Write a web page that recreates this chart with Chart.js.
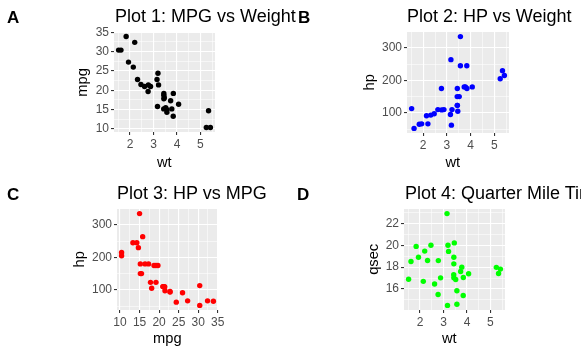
<!DOCTYPE html>
<html>
<head>
<meta charset="utf-8">
<script src="https://cdn.jsdelivr.net/npm/chart.js@4/dist/chart.umd.min.js"></script>
<style>
  html, body { margin: 0; padding: 0; background: #fff; }
  #wrap { position: relative; width: 581px; height: 355px; overflow: hidden; background: #fff; font-family: "Liberation Sans", Arial, sans-serif; }
  canvas { position: absolute; }
  .t { position: absolute; white-space: nowrap; line-height: 1; color: #000; }
  .title { font-size: 18px; }
  .lab { font-size: 17px; font-weight: bold; }
  .ax { font-size: 14.7px; }
  .axv { font-size: 14.7px; transform: rotate(-90deg); transform-origin: 50% 50%; text-align: center; width: 80px; height: 14.7px; }
</style>
</head>
<body>
<div id="wrap">
  <canvas id="c1" width="290" height="177" style="left:0;top:0"></canvas>
  <canvas id="c2" width="291" height="177" style="left:290px;top:0"></canvas>
  <canvas id="c3" width="290" height="178" style="left:0;top:177px"></canvas>
  <canvas id="c4" width="291" height="178" style="left:290px;top:177px"></canvas>
</div>
<script>
// mtcars data (32 cars)
const mpg  = [21.0,21.0,22.8,21.4,18.7,18.1,14.3,24.4,22.8,19.2,17.8,16.4,17.3,15.2,10.4,10.4,14.7,32.4,30.4,33.9,21.5,15.5,15.2,13.3,19.2,27.3,26.0,30.4,15.8,19.7,15.0,21.4];
const hp   = [110,110,93,110,175,105,245,62,95,123,123,180,180,180,205,215,230,66,52,65,97,150,150,245,175,66,91,113,264,175,335,109];
const wt   = [2.620,2.875,2.320,3.215,3.440,3.460,3.570,3.190,3.150,3.440,3.440,4.070,3.730,3.780,5.250,5.424,5.345,2.200,1.615,1.835,2.465,3.520,3.435,3.840,3.845,1.935,2.140,1.513,3.170,2.770,3.570,2.780];
const qsec = [16.46,17.02,18.61,19.44,17.02,20.22,15.84,20.00,22.90,18.30,18.90,17.40,17.60,18.00,17.98,17.82,17.42,19.47,18.52,19.90,20.01,16.87,17.30,15.41,17.05,18.90,16.70,16.90,14.50,15.50,14.60,18.60];

// tick labels (major) and minor grid positions
const wtTicks   = [2,3,4,5];
const wtMinor   = [1.5,2.5,3.5,4.5,5.5];
const mpgTicks  = [10,15,20,25,30,35];
const mpgMinor  = [12.5,17.5,22.5,27.5,32.5];
const hpTicks   = [100,200,300];
const hpMinor   = [50,150,250];
const qsecTicks = [16,18,20,22];
const qsecMinor = [15,17,19,21,23];

const titles = ["Plot 1: MPG vs Weight","Plot 2: HP vs Weight","Plot 3: HP vs MPG","Plot 4: Quarter Mile Time vs Weight"];
const panelLabels = ["A","B","C","D"];

function expandRange(arr) {
  const lo = Math.min(...arr), hi = Math.max(...arr), d = (hi - lo) * 0.05;
  return [lo - d, hi + d];
}

const bgPlugin = {
  id: 'panelbg',
  beforeDraw(chart) {
    const a = chart.chartArea, c = chart.ctx;
    c.save(); c.fillStyle = '#EBEBEB'; c.fillRect(a.left, a.top, a.right - a.left, a.bottom - a.top); c.restore();
  }
};

function axisCfg(data, majors, minors, fitFn) {
  const [mn, mx] = expandRange(data);
  const all = majors.concat(minors).filter(v => v >= mn && v <= mx).sort((a,b)=>a-b);
  const isMajor = v => majors.includes(v);
  return {
    type: 'linear', min: mn, max: mx,
    afterBuildTicks: s => { s.ticks = all.map(v => ({ value: v })); },
    afterFit: fitFn,
    ticks: {
      autoSkip: false, maxRotation: 0, padding: 2,
      color: '#4D4D4D',
      font: { size: 12, family: '"Liberation Sans", Arial, sans-serif' },
      callback: v => isMajor(v) ? String(v) : ''
    },
    grid: {
      color: '#FFFFFF',
      lineWidth: ctx => (ctx.tick && isMajor(ctx.tick.value)) ? 1.1 : 0.55,
      tickColor: ctx => (ctx.tick && isMajor(ctx.tick.value)) ? '#333333' : 'rgba(0,0,0,0)',
      tickWidth: 1.1, tickLength: 3, drawTicks: true
    },
    border: { display: false },
    title: { display: false }
  };
}

function makePanel(id, W, H, xs, ys, color, xMaj, xMin, yMaj, yMin, area) {
  const pts = xs.map((x, i) => ({ x: x, y: ys[i] }));
  new Chart(document.getElementById(id), {
    type: 'scatter',
    data: { datasets: [{ data: pts, backgroundColor: color, borderWidth: 0, pointRadius: 2.7, pointHoverRadius: 2.7 }] },
    options: {
      responsive: false, animation: false, devicePixelRatio: 1,
      layout: { padding: { left: 0, top: area.t, right: W - area.r, bottom: 0 } },
      plugins: { legend: { display: false }, tooltip: { enabled: false }, title: { display: false } },
      scales: {
        x: axisCfg(xs, xMaj, xMin, s => { s.height = H - area.b; }),
        y: axisCfg(ys, yMaj, yMin, s => { s.width = area.l; })
      }
    },
    plugins: [bgPlugin]
  });
}

makePanel('c1', 290, 177, wt,  mpg,  '#000000', wtTicks,  wtMinor,  mpgTicks,  mpgMinor,  { l: 114, t: 32, r: 215, b: 132 });
makePanel('c2', 291, 177, wt,  hp,   '#0000FF', wtTicks,  wtMinor,  hpTicks,   hpMinor,   { l: 117, t: 32, r: 219, b: 133 });
makePanel('c3', 290, 178, mpg, hp,   '#FF0000', mpgTicks, mpgMinor, hpTicks,   hpMinor,   { l: 117, t: 32, r: 218, b: 133 });
makePanel('c4', 291, 178, wt,  qsec, '#00FF00', wtTicks,  wtMinor,  qsecTicks, qsecMinor, { l: 114, t: 32, r: 215, b: 133 });

// text overlays
const wrap = document.getElementById('wrap');
function addText(cls, txt, css) {
  const d = document.createElement('div');
  d.className = 't ' + cls; d.textContent = txt;
  Object.assign(d.style, css); wrap.appendChild(d); return d;
}
// titles (left-aligned to panel)
addText('title', titles[0], { left: '115px', top: '7px' });
addText('title', titles[1], { left: '407px', top: '7px' });
addText('title', titles[2], { left: '117px', top: '184px' });
addText('title', titles[3], { left: '405px', top: '184px' });
// panel labels
addText('lab', panelLabels[0], { left: '7px', top: '9px' });
addText('lab', panelLabels[1], { left: '298px', top: '9px' });
addText('lab', panelLabels[2], { left: '7px', top: '186px' });
addText('lab', panelLabels[3], { left: '297px', top: '186px' });
// x axis titles: centered, baseline given
function xTitle(txt, cx, baseline) {
  const d = addText('ax', txt, { left: '0px', top: (baseline - 12.4) + 'px' });
  d.style.left = (cx - d.offsetWidth / 2) + 'px';
}
xTitle('wt', 164.5, 167);
xTitle('wt', 453, 167);
xTitle('mpg', 167.5, 343.5);
xTitle('wt', 449.5, 343.5);
// y axis titles: rotated, center x / center y
function yTitle(txt, cx, cy) {
  addText('axv', txt, { left: (cx - 40) + 'px', top: (cy - 7.35) + 'px' });
}
yTitle('mpg', 81.6, 82);
yTitle('hp', 369.4, 82.5);
yTitle('hp', 78.7, 259.5);
yTitle('qsec', 372.5, 259.5);
</script>
</body>
</html>
